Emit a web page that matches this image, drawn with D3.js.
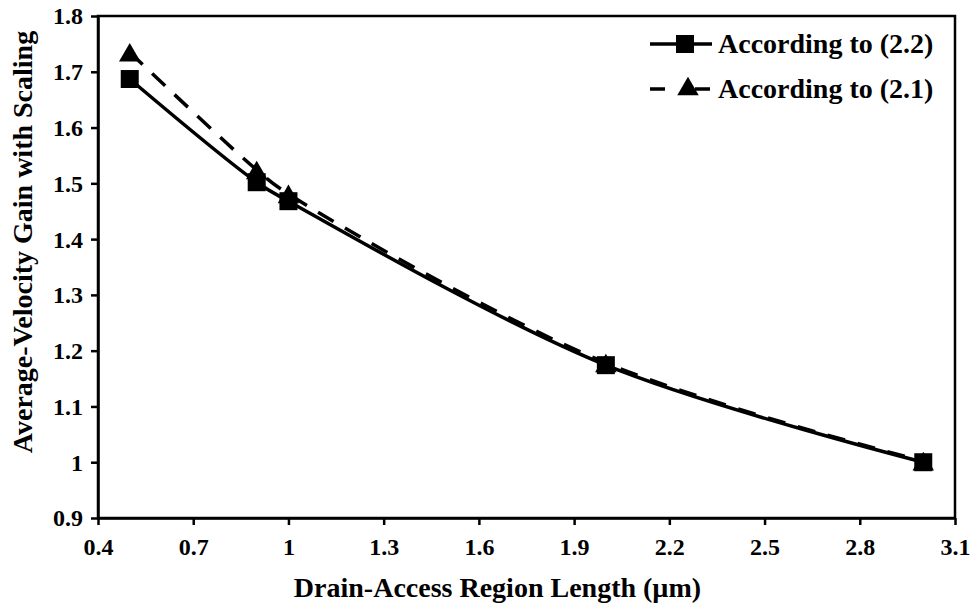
<!DOCTYPE html>
<html>
<head>
<meta charset="utf-8">
<script src="https://cdn.jsdelivr.net/npm/d3@7"></script>
<style>
  body { margin: 0; background: #fff; }
</style>
</head>
<body>
<svg id="chart" width="974" height="609"></svg>
<script>
    // data
    var lengths = [0.5, 0.9, 1.0, 2.0, 3.0],
        gain22 = [1.687, 1.502, 1.468, 1.174, 1.0],
        gain21 = [1.735, 1.524, 1.481, 1.178, 1.002],
        xTicks = [0.4, 0.7, 1.0, 1.3, 1.6, 1.9, 2.2, 2.5, 2.8, 3.1],
        yTicks = [0.9, 1.0, 1.1, 1.2, 1.3, 1.4, 1.5, 1.6, 1.7, 1.8],
        seriesNames = ['According to (2.2)', 'According to (2.1)'];

(function() {
    'use strict';
    var FONT = '"Liberation Serif"',
        svg = d3.select('#chart'),
        m = {left: 98, right: 955, top: 16, bottom: 518};

    var x = d3.scaleLinear().domain([0.4, 3.1]).range([m.left, m.right]),
        y = d3.scaleLinear().domain([0.9, 1.8]).range([m.bottom, m.top]);

    var fmt = function(d) { return d3.format('.1f')(d).replace(/\.0$/, ''); };

    // frame
    svg.append('rect')
        .attr('x', m.left).attr('y', m.top)
        .attr('width', m.right - m.left).attr('height', m.bottom - m.top)
        .attr('fill', 'none').attr('stroke', '#000').attr('stroke-width', 2.5);

    var xAxis = svg.append('g')
        .attr('transform', 'translate(0,' + m.bottom + ')')
        .call(d3.axisBottom(x).tickValues(xTicks).tickFormat(fmt).tickSize(7).tickSizeOuter(0));
    var yAxis = svg.append('g')
        .attr('transform', 'translate(' + m.left + ',0)')
        .call(d3.axisLeft(y).tickValues(yTicks).tickFormat(fmt).tickSize(7).tickSizeOuter(0));

    [xAxis, yAxis].forEach(function(a) {
        a.attr('font-family', null).attr('font-size', null);
        a.select('.domain').attr('stroke-width', 2.5);
        a.selectAll('.tick line').attr('stroke-width', 2.5);
        a.selectAll('text')
            .style('font-family', FONT).style('font-weight', 'bold')
            .style('font-size', '24px').attr('fill', '#000');
    });
    xAxis.selectAll('text').attr('dy', null).attr('y', 37);
    yAxis.selectAll('text').attr('x', -15).attr('dy', '0.33em');

    svg.append('text')
        .attr('x', (m.left + m.right) / 2 - 29).attr('y', 597)
        .attr('text-anchor', 'middle')
        .style('font-family', FONT).style('font-weight', 'bold').style('font-size', '28px')
        .text('Drain-Access Region Length (\u00b5m)');
    svg.append('text')
        .attr('transform', 'translate(32,242) rotate(-90)')
        .attr('text-anchor', 'middle')
        .style('font-family', FONT).style('font-weight', 'bold').style('font-size', '28px')
        .text('Average-Velocity Gain with Scaling');

    var line = d3.line()
        .x(function(d) { return x(d[0]); })
        .y(function(d) { return y(d[1]); })
        .curve(d3.curveCatmullRom.alpha(0.5));

    var pts22 = d3.zip(lengths, gain22),
        pts21 = d3.zip(lengths, gain21);

    // triangle drawn so its box (not centroid) sits on the point
    var tri = d3.symbol().type(d3.symbolTriangle).size(200),
        triShift = 3.1,
        sq = d3.symbol().type(d3.symbolSquare).size(324);

    svg.append('path').datum(pts21).attr('d', line)
        .attr('fill', 'none').attr('stroke', '#000').attr('stroke-width', 3.5)
        .attr('stroke-dasharray', '18,13');
    svg.append('path').datum(pts22).attr('d', line)
        .attr('fill', 'none').attr('stroke', '#000').attr('stroke-width', 3.5);

    svg.selectAll('.tri').data(pts21).enter().append('path')
        .attr('class', 'tri').attr('d', tri)
        .attr('transform', function(d) { return 'translate(' + x(d[0]) + ',' + (y(d[1]) + triShift) + ')'; });
    svg.selectAll('.sq').data(pts22).enter().append('path')
        .attr('class', 'sq').attr('d', sq)
        .attr('transform', function(d) { return 'translate(' + x(d[0]) + ',' + y(d[1]) + ')'; });

    // legend
    var lg = svg.append('g');
    lg.append('line').attr('x1', 650).attr('x2', 712).attr('y1', 44).attr('y2', 44)
        .attr('stroke', '#000').attr('stroke-width', 3.5);
    lg.append('path').attr('d', sq).attr('transform', 'translate(685,44)');
    lg.append('line').attr('x1', 650).attr('x2', 712).attr('y1', 89).attr('y2', 89)
        .attr('stroke', '#000').attr('stroke-width', 3.5).attr('stroke-dasharray', '15,30');
    lg.append('path').attr('d', tri).attr('transform', 'translate(688,' + (86 + triShift) + ')');
    lg.selectAll('.lt').data(seriesNames).enter().append('text')
        .attr('x', 718).attr('y', function(d, i) { return 53 + i * 45; })
        .style('font-family', FONT).style('font-weight', 'bold').style('font-size', '28px')
        .text(function(d) { return d; });
}());
</script>
</body>
</html>
